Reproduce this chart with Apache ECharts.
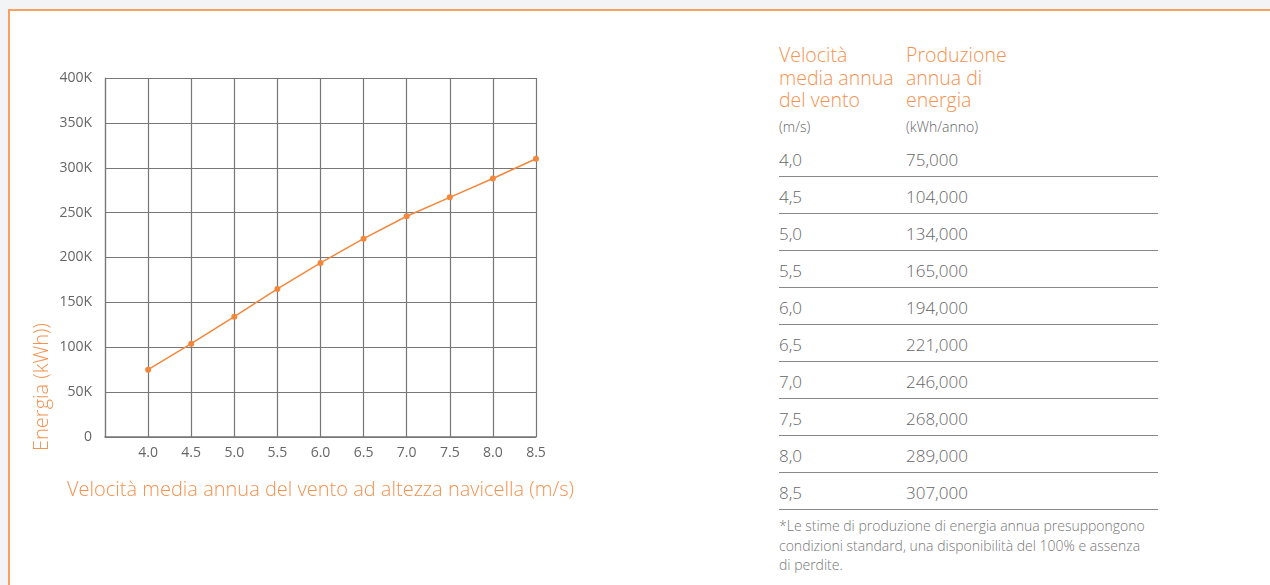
<!DOCTYPE html>
<html>
<head>
<meta charset="utf-8">
<script src="https://cdn.jsdelivr.net/npm/echarts@6/dist/echarts.min.js"></script>
<style>
  html, body { margin: 0; padding: 0; width: 1270px; height: 585px; overflow: hidden; background: #f3f4f6; font-family: "Open Sans", Roboto, sans-serif; }
  #card { position: absolute; left: 8px; top: 9px; width: 1300px; height: 620px; background: #fff; border-top: 2px solid #f7a061; border-left: 2px solid #f7a061; }
  #chart { position: absolute; left: 0; top: 0; width: 700px; height: 585px; }
  #table { position: absolute; left: 779px; top: 0; width: 380px; }
  .hdr { position: absolute; top: 44px; font-size: 19.5px; line-height: 22.5px; color: #f5924f; font-weight: 300; white-space: nowrap; }
  .unit { position: absolute; top: 117px; font-size: 14px; color: #666; font-weight: 300; }
  .row { position: absolute; left: 0; width: 379px; height: 36px; border-bottom: 1.5px solid #888; font-size: 17px; color: #666; font-weight: 300; }
  .row span { position: absolute; top: 8px; }
  .note { position: absolute; left: 0; top: 516px; width: 372px; font-size: 14px; line-height: 19.5px; color: #777; font-weight: 300; }
</style>
</head>
<body>
<div id="card"></div>
<div id="chart"></div>
<div id="table"></div>
<script>
// ---- data ----
const speeds = [4.0, 4.5, 5.0, 5.5, 6.0, 6.5, 7.0, 7.5, 8.0, 8.5];
const energyChart = [75000, 104000, 134000, 165000, 194000, 221000, 246000, 267000, 288000, 310000];
const tableSpeedLabels = ['4,0', '4,5', '5,0', '5,5', '6,0', '6,5', '7,0', '7,5', '8,0', '8,5'];
const tableEnergyLabels = ['75,000', '104,000', '134,000', '165,000', '194,000', '221,000', '246,000', '268,000', '289,000', '307,000'];
const xAxisTitle = 'Velocità media annua del vento ad altezza navicella (m/s)';
const yAxisTitle = 'Energia (kWh))';
const headerSpeed = ['Velocità', 'media annua', 'del vento'];
const headerEnergy = ['Produzione', 'annua di', 'energia'];
const unitSpeed = '(m/s)';
const unitEnergy = '(kWh/anno)';
const footnote = '*Le stime di produzione di energia annua presuppongono condizioni standard, una disponibilità del 100% e assenza di perdite.';

// ---- table ----
const tbl = document.getElementById('table');
function add(cls, html, style) {
  const d = document.createElement('div');
  d.className = cls; d.innerHTML = html; if (style) d.setAttribute('style', style);
  tbl.appendChild(d); return d;
}
add('hdr', headerSpeed.join('<br>'), 'left:0');
add('hdr', headerEnergy.join('<br>'), 'left:127px');
add('unit', unitSpeed, 'left:0');
add('unit', unitEnergy, 'left:127px');
tableSpeedLabels.forEach((s, i) => {
  add('row', '<span style="left:0">' + s + '</span><span style="left:127px">' + tableEnergyLabels[i] + '</span>',
      'top:' + (140 + i * 37) + 'px');
});
add('note', footnote);

// ---- chart ----
const FONT = '"Open Sans", Roboto, sans-serif';
const chart = echarts.init(document.getElementById('chart'), null, { renderer: 'canvas' });
const orange = '#f5873a';
const gridColor = '#777';
chart.setOption({
  animation: false,
  textStyle: { fontFamily: FONT },
  grid: { left: 105, top: 78, width: 431, height: 359 },
  xAxis: {
    type: 'value', min: 3.5, max: 8.5, interval: 0.5,
    name: xAxisTitle, nameLocation: 'middle', nameGap: 43,
    nameTextStyle: { color: '#f5924f', fontSize: 20, fontWeight: 300, fontFamily: FONT },
    axisLine: { show: true, lineStyle: { color: gridColor, width: 1.5 } },
    axisTick: { show: false },
    axisLabel: { color: '#666', fontSize: 14, margin: 9, fontFamily: FONT,
      formatter: v => (Math.abs(v - 3.5) < 1e-9 ? '' : v.toFixed(1)) },
    splitLine: { show: true, lineStyle: { color: gridColor, width: 1.2 } }
  },
  yAxis: {
    type: 'value', min: 0, max: 400000, interval: 50000,
    axisLine: { show: true, lineStyle: { color: gridColor, width: 1.2 } },
    axisTick: { show: false },
    axisLabel: { color: '#666', fontSize: 14, margin: 13, fontFamily: FONT,
      formatter: v => (v === 0 ? '0' : (v / 1000) + 'K') },
    splitLine: { show: true, lineStyle: { color: gridColor, width: 1.2 } }
  },
  graphic: [{
    type: 'text', x: 42, y: 387, rotation: Math.PI / 2,
    style: { text: yAxisTitle, fill: '#f5924f', fontSize: 20, fontWeight: 300,
      fontFamily: FONT, align: 'center', verticalAlign: 'middle' }
  }],
  series: [{
    type: 'line',
    data: speeds.map((s, i) => [s, energyChart[i]]),
    symbol: 'circle', symbolSize: 6,
    itemStyle: { color: orange },
    lineStyle: { color: orange, width: 1.5 }
  }]
});
</script>
</body>
</html>
